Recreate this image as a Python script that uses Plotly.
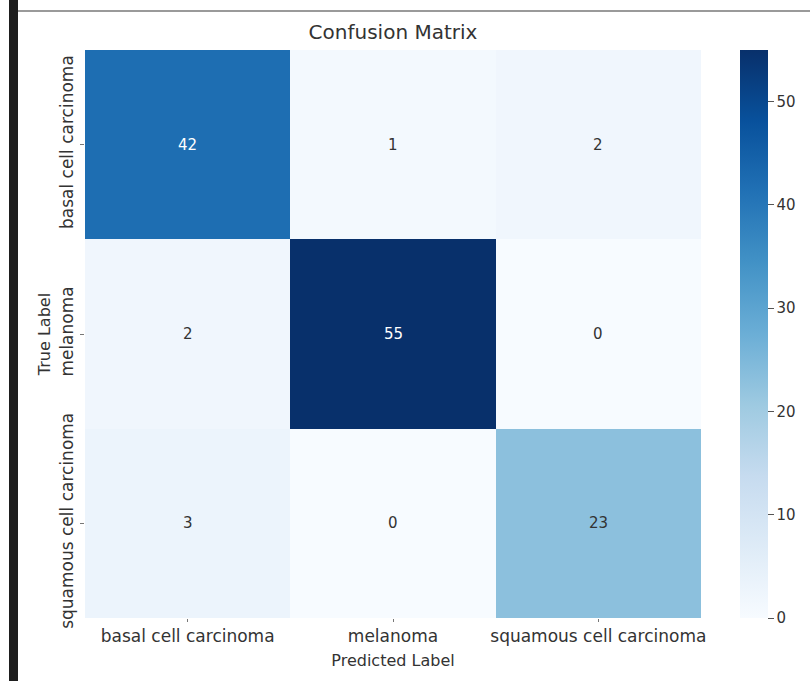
import plotly.graph_objects as go

# Class names and confusion counts (rows = true label, columns = predicted label)
classes = ["basal cell carcinoma", "melanoma", "squamous cell carcinoma"]
row_basal = [42, 1, 2]
row_melanoma = [2, 55, 0]
row_squamous = [3, 0, 23]
counts = [row_basal, row_melanoma, row_squamous]
cbar_ticks = [0, 10, 20, 30, 40, 50]

# matplotlib "Blues" colormap stops
blues = [
    [0.0, "#f7fbff"], [0.125, "#deebf7"], [0.25, "#c6dbef"],
    [0.375, "#9ecae1"], [0.5, "#6baed6"], [0.625, "#4292c6"],
    [0.75, "#2171b5"], [0.875, "#08519c"], [1.0, "#08306b"],
]

FONT = "DejaVu Sans"
TXT = "#333333"
vmax = max(max(r) for r in counts)

W, H = 810, 681
L, R, T, B = 85, 109, 50, 63
pw, ph = W - L - R, H - T - B

fig = go.Figure(
    go.Heatmap(
        z=counts,
        x=classes,
        y=classes,
        colorscale=blues,
        zmin=0,
        zmax=vmax,
        showscale=True,
        hoverinfo="skip",
        colorbar=dict(
            x=(740 - L) / pw,
            xanchor="left",
            xpad=0,
            ypad=0,
            y=0.5,
            len=1,
            lenmode="fraction",
            thickness=28,
            outlinewidth=0,
            tickvals=cbar_ticks,
            ticks="outside",
            ticklen=6,
            tickwidth=1,
            tickcolor="#555",
            tickfont=dict(family=FONT, size=15, color=TXT),
        ),
    )
)

# Cell value labels: white on dark cells, dark on light cells
for i, row in enumerate(counts):
    for j, v in enumerate(row):
        fig.add_annotation(
            x=classes[j], y=classes[i], text=str(v), showarrow=False,
            font=dict(family=FONT, size=15,
                      color="white" if v > vmax * 0.5 else TXT),
        )

# Frame decorations: dark strip on the left, thin gray rule along the top
fig.add_shape(type="rect", xref="paper", yref="paper",
              x0=(9 - L) / pw, x1=(18 - L) / pw,
              y0=(T + ph - H) / ph, y1=(T + ph) / ph,
              fillcolor="#1e1e1e", line_width=0, layer="above")
fig.add_shape(type="line", xref="paper", yref="paper",
              x0=(18 - L) / pw, x1=(W - L) / pw,
              y0=(T + ph - 11) / ph, y1=(T + ph - 11) / ph,
              line=dict(color="#9a9a9a", width=2))

fig.update_layout(
    width=W,
    height=H,
    margin=dict(l=L, r=R, t=T, b=B),
    paper_bgcolor="white",
    plot_bgcolor="white",
    font=dict(family=FONT, color=TXT),
    title=dict(text="Confusion Matrix", x=393 / W, xanchor="center",
               y=1 - 32 / H, yanchor="middle",
               font=dict(family=FONT, size=20, color=TXT)),
    xaxis=dict(
        title=dict(text="Predicted Label", standoff=9,
                   font=dict(family=FONT, size=16, color=TXT)),
        tickfont=dict(family=FONT, size=17, color=TXT),
        ticks="outside", ticklen=3, tickcolor="#777",
        showgrid=False, zeroline=False, showline=False,
    ),
    yaxis=dict(
        title=dict(text="True Label", standoff=2,
                   font=dict(family=FONT, size=16, color=TXT)),
        tickfont=dict(family=FONT, size=17, color=TXT),
        tickangle=-90,
        autorange="reversed",
        ticks="outside", ticklen=4, tickcolor="#777",
        showgrid=False, zeroline=False, showline=False,
    ),
)

fig.write_html("out.html")
